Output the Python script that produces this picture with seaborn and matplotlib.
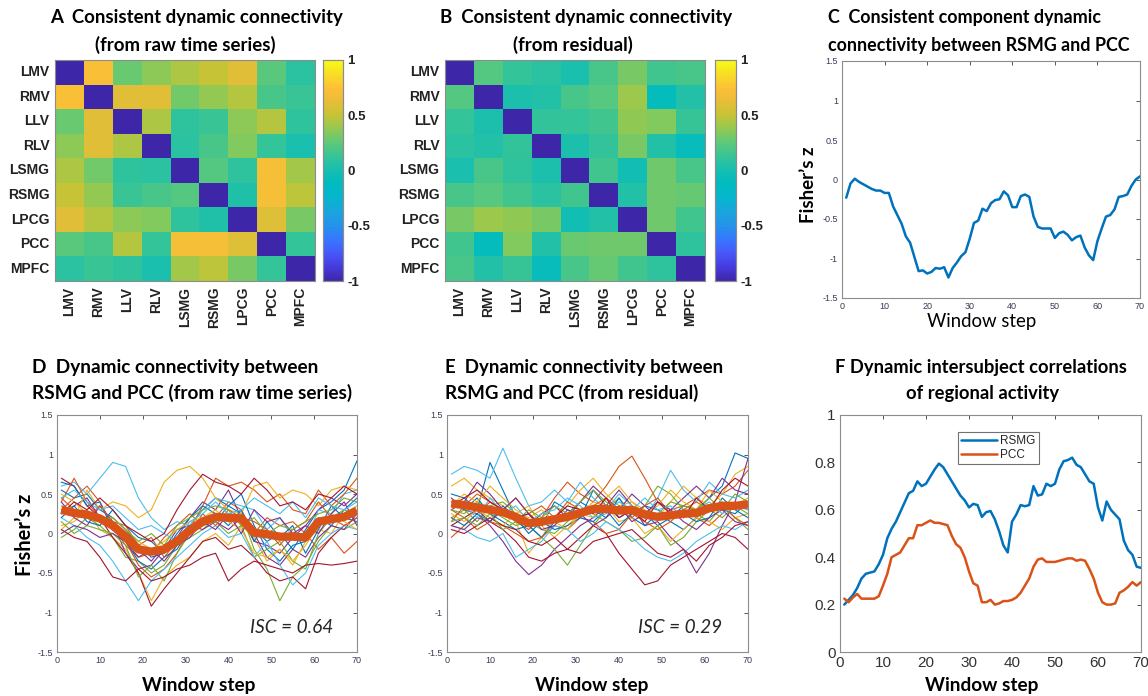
import numpy as np
import pandas as pd
import matplotlib
matplotlib.use("Agg")
import matplotlib.pyplot as plt
import seaborn as sns
from matplotlib.colors import LinearSegmentedColormap

# ---------------- DATA ----------------
regions = ["LMV", "RMV", "LLV", "RLV", "LSMG", "RSMG", "LPCG", "PCC", "MPFC"]

conn_raw = [
    [-1.00, 0.72, 0.28, 0.36, 0.44, 0.50, 0.60, 0.24, 0.08],
    [0.72, -1.00, 0.60, 0.60, 0.30, 0.38, 0.46, 0.18, 0.14],
    [0.28, 0.60, -1.00, 0.44, 0.10, 0.14, 0.36, 0.46, 0.10],
    [0.36, 0.60, 0.44, -1.00, 0.08, 0.18, 0.34, 0.12, 0.02],
    [0.44, 0.30, 0.10, 0.08, -1.00, 0.22, 0.10, 0.70, 0.42],
    [0.50, 0.38, 0.14, 0.18, 0.22, -1.00, 0.04, 0.70, 0.48],
    [0.60, 0.46, 0.36, 0.34, 0.10, 0.04, -1.00, 0.58, 0.32],
    [0.24, 0.18, 0.46, 0.12, 0.70, 0.70, 0.58, -1.00, 0.12],
    [0.08, 0.14, 0.10, 0.02, 0.42, 0.48, 0.32, 0.12, -1.00],
]

conn_resid = [
    [-1.00, 0.22, 0.12, 0.08, 0.02, 0.18, 0.32, 0.16, 0.18],
    [0.22, -1.00, 0.03, 0.05, 0.18, 0.23, 0.40, -0.10, 0.05],
    [0.12, 0.03, -1.00, 0.11, 0.12, 0.16, 0.37, 0.34, 0.13],
    [0.08, 0.05, 0.11, -1.00, 0.03, 0.11, 0.32, 0.05, -0.08],
    [0.02, 0.18, 0.10, 0.03, -1.00, 0.16, -0.02, 0.29, 0.18],
    [0.18, 0.23, 0.16, 0.08, 0.16, -1.00, 0.05, 0.29, 0.27],
    [0.32, 0.40, 0.37, 0.32, -0.02, 0.05, -1.00, 0.29, 0.16],
    [0.16, -0.10, 0.34, 0.05, 0.28, 0.29, 0.29, -1.00, 0.10],
    [0.18, 0.05, 0.13, -0.08, 0.18, 0.27, 0.16, 0.10, -1.00],
]

steps = list(range(1, 71))

consistent_z = [-0.23, -0.05, 0.01, -0.03, -0.06, -0.09, -0.12, -0.14, -0.14, -0.17,
                -0.17, -0.34, -0.45, -0.56, -0.72, -0.80, -0.98, -1.16, -1.15, -1.19,
                -1.17, -1.12, -1.13, -1.11, -1.24, -1.12, -1.05, -0.97, -0.92, -0.75,
                -0.55, -0.52, -0.37, -0.40, -0.30, -0.26, -0.25, -0.15, -0.20, -0.35,
                -0.35, -0.21, -0.19, -0.22, -0.47, -0.60, -0.62, -0.62, -0.62, -0.74,
                -0.68, -0.66, -0.70, -0.77, -0.73, -0.71, -0.86, -0.96, -1.02, -0.78,
                -0.62, -0.47, -0.45, -0.38, -0.22, -0.21, -0.19, -0.08, 0.00, 0.04]

isc_rsmg = [0.20, 0.22, 0.24, 0.27, 0.31, 0.33, 0.335, 0.34, 0.37, 0.41,
            0.48, 0.52, 0.55, 0.59, 0.63, 0.67, 0.68, 0.72, 0.70, 0.71,
            0.74, 0.77, 0.795, 0.78, 0.75, 0.72, 0.69, 0.66, 0.64, 0.61,
            0.625, 0.62, 0.57, 0.59, 0.595, 0.56, 0.51, 0.45, 0.42, 0.55,
            0.58, 0.62, 0.615, 0.62, 0.70, 0.66, 0.665, 0.71, 0.70, 0.71,
            0.77, 0.805, 0.81, 0.82, 0.79, 0.78, 0.75, 0.72, 0.71, 0.61,
            0.555, 0.635, 0.60, 0.58, 0.56, 0.47, 0.43, 0.41, 0.36, 0.355]

isc_pcc = [0.225, 0.21, 0.23, 0.245, 0.225, 0.225, 0.225, 0.225, 0.235, 0.28,
           0.33, 0.40, 0.41, 0.42, 0.45, 0.48, 0.48, 0.535, 0.535, 0.545,
           0.555, 0.545, 0.545, 0.54, 0.535, 0.49, 0.455, 0.44, 0.40, 0.34,
           0.29, 0.28, 0.21, 0.21, 0.22, 0.20, 0.205, 0.215, 0.215, 0.22,
           0.23, 0.25, 0.28, 0.31, 0.36, 0.39, 0.395, 0.38, 0.38, 0.38,
           0.385, 0.39, 0.395, 0.395, 0.385, 0.39, 0.385, 0.35, 0.31, 0.25,
           0.21, 0.20, 0.20, 0.205, 0.25, 0.26, 0.275, 0.295, 0.28, 0.295]

steps_subj = list(range(1, 71, 3))  # 24 sampled window steps

raw_mean = [0.30, 0.26, 0.24, 0.19, 0.10, -0.04, -0.20, -0.23, -0.20, -0.10, 0.04, 0.15,
            0.21, 0.20, 0.19, 0.01, -0.01, -0.04, -0.04, -0.05, 0.15, 0.18, 0.21, 0.29]

raw_subjects = [
    [0.55, 0.45, 0.50, 0.30, 0.20, 0.05, -0.15, -0.30, -0.25, -0.05, 0.10, 0.30, 0.45, 0.35, 0.25, 0.05, -0.10, 0.00, -0.20, 0.05, 0.30, 0.40, 0.55, 0.92],
    [0.30, 0.45, 0.60, 0.40, 0.10, -0.15, -0.30, -0.25, -0.05, 0.10, 0.25, 0.10, 0.20, 0.40, 0.30, 0.00, 0.20, 0.10, 0.15, 0.00, -0.20, -0.05, -0.25, -0.10],
    [0.10, 0.15, 0.30, 0.05, -0.05, -0.20, -0.50, -0.85, -0.55, -0.40, -0.30, -0.10, 0.00, -0.15, 0.10, -0.05, -0.35, -0.20, -0.40, -0.10, 0.05, 0.00, 0.25, 0.35],
    [0.25, 0.35, 0.45, 0.20, 0.05, -0.05, -0.20, -0.35, -0.15, -0.05, 0.20, 0.40, 0.30, 0.55, 0.20, -0.10, -0.15, -0.25, -0.05, 0.10, 0.30, 0.45, 0.35, 0.50],
    [-0.05, 0.05, 0.20, 0.10, -0.05, -0.30, -0.35, -0.50, -0.40, -0.15, -0.05, 0.05, 0.20, 0.15, 0.25, -0.20, -0.45, -0.85, -0.55, -0.40, -0.10, 0.10, 0.05, 0.15],
    [0.60, 0.65, 0.50, 0.70, 0.90, 0.85, 0.45, 0.20, 0.05, 0.15, 0.10, 0.30, 0.45, 0.40, 0.35, 0.30, 0.05, 0.20, -0.05, -0.10, 0.30, 0.25, 0.50, 0.55],
    [0.70, 0.60, 0.35, 0.20, -0.05, -0.25, -0.50, -0.92, -0.70, -0.50, -0.30, -0.10, -0.05, -0.20, -0.15, -0.30, -0.50, -0.60, -0.55, -0.70, -0.25, -0.05, 0.10, 0.20],
    [0.65, 0.60, 0.35, 0.40, 0.05, -0.10, -0.35, -0.45, -0.30, -0.20, 0.05, 0.20, 0.15, 0.35, 0.50, 0.10, -0.20, -0.35, -0.15, -0.10, 0.20, 0.10, 0.30, 0.45],
    [0.40, 0.70, 0.40, 0.20, 0.05, -0.10, -0.40, -0.55, -0.45, -0.25, 0.05, 0.35, 0.70, 0.60, 0.65, 0.55, 0.40, 0.50, 0.30, 0.25, 0.55, 0.35, 0.50, 0.70],
    [0.05, 0.20, 0.55, 0.30, 0.40, 0.35, 0.20, 0.30, 0.65, 0.80, 0.85, 0.70, 0.45, 0.30, 0.25, 0.60, 0.65, 0.45, 0.55, 0.50, 0.35, 0.55, 0.60, 0.55],
    [0.40, 0.20, 0.10, 0.35, 0.15, -0.25, -0.45, -0.40, -0.20, 0.05, 0.10, 0.05, 0.15, 0.05, 0.20, 0.00, -0.30, -0.40, -0.20, -0.30, -0.05, 0.10, 0.05, 0.25],
    [0.15, 0.00, 0.10, 0.05, 0.00, -0.15, -0.55, -0.40, -0.60, -0.25, 0.00, 0.10, 0.15, 0.00, 0.10, -0.30, -0.20, -0.10, -0.35, -0.45, 0.00, 0.20, 0.30, 0.25],
    [0.20, 0.10, -0.05, -0.15, -0.35, -0.60, -0.85, -0.60, -0.45, -0.30, -0.15, 0.00, 0.10, -0.05, 0.00, -0.30, -0.10, -0.40, -0.65, -0.50, -0.15, 0.00, 0.10, 0.05],
    [0.05, -0.05, -0.10, -0.30, -0.55, -0.60, -0.45, -0.60, -0.55, -0.45, -0.40, -0.30, -0.25, -0.60, -0.45, -0.35, -0.40, -0.45, -0.50, -0.40, -0.38, -0.40, -0.38, -0.35],
    [0.20, 0.35, 0.15, 0.10, 0.30, 0.10, -0.05, -0.10, -0.25, 0.00, 0.20, 0.35, 0.25, 0.10, 0.30, -0.10, 0.15, -0.05, 0.10, -0.25, 0.05, 0.35, 0.20, 0.15],
    [0.45, 0.30, 0.20, 0.35, 0.15, 0.10, -0.15, -0.05, -0.30, -0.10, 0.00, 0.25, 0.10, 0.30, 0.20, 0.15, 0.05, -0.15, 0.05, 0.15, 0.40, 0.20, 0.10, 0.20],
    [0.50, 0.40, 0.25, 0.15, 0.20, 0.05, -0.10, -0.20, -0.10, 0.05, 0.15, 0.20, 0.30, 0.15, 0.05, -0.25, -0.30, -0.20, -0.35, -0.15, 0.10, 0.25, 0.15, 0.05],
    [0.00, 0.10, 0.05, -0.05, 0.00, -0.10, -0.30, -0.20, -0.35, -0.15, -0.05, 0.15, 0.05, 0.25, 0.00, 0.30, 0.15, 0.20, 0.00, 0.10, 0.00, 0.25, 0.40, 0.10],
    [0.35, 0.30, 0.25, 0.15, 0.20, 0.05, -0.10, 0.00, -0.15, 0.10, 0.20, 0.30, 0.35, 0.30, 0.10, 0.20, 0.00, 0.10, 0.05, 0.15, 0.25, 0.30, 0.45, 0.40],
    [0.45, 0.55, 0.40, 0.30, 0.35, 0.20, 0.05, 0.10, 0.00, -0.10, 0.15, 0.25, 0.40, 0.25, 0.30, 0.45, 0.35, 0.25, 0.40, 0.20, 0.45, 0.35, 0.30, 0.40],
    [0.25, 0.40, 0.30, 0.45, 0.30, 0.10, 0.00, -0.10, 0.00, 0.30, 0.55, 0.75, 0.65, 0.60, 0.50, 0.70, 0.55, 0.35, 0.40, 0.30, 0.50, 0.45, 0.60, 0.50],
]

resid_mean = [0.38, 0.36, 0.33, 0.30, 0.27, 0.21, 0.13, 0.15, 0.18, 0.21, 0.26, 0.31,
              0.31, 0.29, 0.30, 0.24, 0.21, 0.23, 0.25, 0.26, 0.32, 0.35, 0.35, 0.37]

resid_subjects = [
    [0.50, 0.45, 0.30, 0.90, 0.55, 0.20, 0.25, 0.10, 0.40, 0.30, 0.20, 0.55, 0.35, 0.20, 0.30, 0.25, 0.10, 0.20, 0.35, 0.30, 0.45, 0.60, 1.02, 0.95],
    [-0.05, 0.10, 0.25, 0.40, 0.30, 0.15, 0.05, 0.20, 0.45, 0.65, 0.50, 0.40, 0.60, 0.85, 0.98, 0.70, 0.40, 0.30, 0.35, 0.45, 0.55, 0.50, 0.60, 0.80],
    [0.60, 0.70, 0.55, 0.45, 0.35, 0.15, -0.25, -0.05, 0.20, 0.35, 0.55, 0.70, 0.50, 0.35, 0.40, 0.30, 0.20, 0.40, 0.60, 0.45, 0.35, 0.50, 0.75, 0.85],
    [0.45, 0.30, 0.25, 0.10, -0.10, -0.35, -0.52, -0.40, -0.20, -0.05, 0.10, 0.20, 0.35, 0.55, 0.35, 0.10, 0.15, -0.05, -0.20, -0.50, -0.25, 0.10, 0.40, 0.95],
    [0.20, 0.30, 0.15, 0.35, 0.40, 0.25, 0.10, -0.05, -0.20, -0.40, -0.15, 0.10, 0.30, 0.45, 0.25, 0.35, 0.60, 0.50, 0.30, 0.25, 0.15, 0.35, 0.20, 0.05],
    [0.75, 0.85, 0.80, 0.70, 1.08, 0.70, 0.35, 0.40, 0.55, 0.40, 0.65, 0.45, 0.30, 0.50, 0.35, 0.20, 0.45, 0.80, 0.55, 0.40, 0.65, 0.50, 0.45, 0.55],
    [0.10, 0.20, 0.30, 0.15, 0.05, -0.10, -0.30, -0.35, -0.25, -0.20, -0.05, 0.10, 0.00, -0.25, -0.45, -0.65, -0.60, -0.40, -0.30, -0.20, -0.10, 0.00, -0.05, -0.20],
    [0.40, 0.30, 0.45, 0.25, 0.15, 0.05, 0.10, -0.05, 0.15, 0.25, 0.40, 0.30, 0.20, 0.45, 0.20, 0.10, 0.25, 0.15, 0.05, 0.20, 0.35, 0.30, 0.25, 0.40],
    [0.30, 0.20, 0.05, 0.15, 0.10, 0.00, -0.10, -0.05, 0.10, 0.05, 0.20, 0.15, 0.00, 0.05, 0.25, 0.15, 0.05, 0.15, 0.30, 0.20, 0.10, 0.25, 0.40, 0.30],
    [0.25, 0.15, 0.30, 0.20, 0.10, 0.25, 0.35, 0.10, -0.05, 0.10, 0.25, 0.40, 0.35, 0.15, 0.20, 0.00, 0.10, -0.10, 0.05, 0.20, 0.15, 0.05, 0.20, 0.25],
    [0.30, 0.40, 0.65, 0.50, 0.30, 0.15, 0.10, 0.25, 0.35, 0.20, 0.40, 0.60, 0.45, 0.30, 0.50, 0.35, 0.20, 0.30, 0.45, 0.60, 0.45, 0.70, 0.55, 0.50],
    [0.30, 0.25, 0.40, 0.30, 0.20, 0.10, 0.15, 0.05, 0.00, 0.15, 0.30, 0.25, 0.15, 0.05, -0.10, -0.05, 0.10, -0.15, -0.05, 0.15, 0.30, 0.20, 0.35, 0.25],
    [0.10, 0.05, -0.05, -0.10, 0.00, -0.30, -0.20, -0.10, 0.10, 0.05, -0.10, 0.00, 0.15, 0.05, -0.05, -0.20, -0.30, -0.35, -0.25, -0.10, 0.00, 0.10, 0.05, 0.15],
    [0.05, 0.00, 0.10, 0.20, 0.10, 0.05, -0.10, -0.15, -0.05, -0.20, -0.25, -0.10, -0.05, 0.00, 0.05, -0.10, -0.25, -0.30, -0.20, -0.35, -0.15, -0.05, 0.10, 0.15],
    [0.20, 0.10, 0.25, 0.15, 0.35, 0.20, 0.00, 0.15, 0.05, 0.10, 0.20, 0.15, 0.30, 0.10, 0.25, 0.35, 0.30, 0.20, 0.25, 0.15, 0.20, 0.45, 0.30, 0.20],
    [0.15, 0.35, 0.50, 0.40, 0.30, 0.45, 0.25, 0.35, 0.20, 0.40, 0.30, 0.35, 0.45, 0.30, 0.20, 0.35, 0.45, 0.25, 0.30, 0.40, 0.30, 0.35, 0.20, 0.10],
    [0.35, 0.50, 0.40, 0.60, 0.45, 0.30, 0.20, 0.30, 0.15, 0.05, 0.25, 0.20, 0.45, 0.60, 0.40, 0.25, 0.35, 0.55, 0.40, 0.30, 0.55, 0.40, 0.35, 0.45],
    [0.10, 0.05, 0.20, 0.15, 0.30, 0.45, 0.25, 0.05, 0.10, 0.30, 0.25, 0.10, 0.20, 0.35, 0.15, 0.25, 0.40, 0.30, 0.15, 0.05, 0.20, 0.30, 0.15, 0.10],
    [0.15, 0.20, 0.10, 0.25, 0.05, 0.15, 0.30, 0.20, 0.35, 0.25, 0.40, 0.55, 0.40, 0.30, 0.35, 0.20, 0.25, 0.40, 0.35, 0.30, 0.45, 0.30, 0.50, 0.40],
    [0.40, 0.35, 0.20, 0.45, 0.25, 0.35, 0.15, 0.25, 0.30, 0.45, 0.35, 0.20, 0.25, 0.40, 0.30, 0.45, 0.30, 0.35, 0.20, 0.30, 0.40, 0.25, 0.35, 0.30],
    [0.35, 0.45, 0.55, 0.40, 0.30, 0.20, 0.25, 0.10, 0.20, 0.35, 0.30, 0.25, 0.45, 0.20, 0.30, 0.15, 0.40, 0.25, 0.20, 0.45, 0.30, 0.55, 0.70, 0.60],
]

# ---------------- STYLE ----------------
sns.set_theme(style="white")
plt.rcParams["font.family"] = ["Liberation Sans", "DejaVu Sans"]

parula = LinearSegmentedColormap.from_list("parula_like", [
    (0.000, (0.2422, 0.1504, 0.6603)),
    (0.0625, (0.2744, 0.2305, 0.8648)),
    (0.125, (0.2803, 0.3446, 0.9786)),
    (0.1875, (0.2168, 0.4647, 0.9964)),
    (0.250, (0.1408, 0.5765, 0.9173)),
    (0.3125, (0.1036, 0.6468, 0.8658)),
    (0.375, (0.0222, 0.7087, 0.8072)),
    (0.4375, (0.0000, 0.7330, 0.7537)),
    (0.500, (0.0846, 0.7452, 0.6931)),
    (0.5625, (0.2077, 0.7678, 0.5959)),
    (0.625, (0.3616, 0.7877, 0.4794)),
    (0.6875, (0.5660, 0.7901, 0.3259)),
    (0.750, (0.7720, 0.7676, 0.2127)),
    (0.8125, (0.9122, 0.7383, 0.2235)),
    (0.875, (0.9926, 0.7526, 0.2101)),
    (0.9375, (0.9679, 0.8697, 0.1462)),
    (1.000, (0.9769, 0.9839, 0.0805)),
])

matlab = ["#0072BD", "#D95319", "#EDB120", "#7E2F8E", "#77AC30", "#4DBEEE", "#A2142F"]
mean_color = "#D95319"
edge_gray = "0.55"
tick_col = "#3a3a55"
title_font = ["Lato", "DejaVu Sans"]

W, H = 1148, 696
fig = plt.figure(figsize=(W / 100, H / 100), dpi=100)


def box(x0, y0, x1, y1):
    return [x0 / W, 1 - y1 / H, (x1 - x0) / W, (y1 - y0) / H]


def ftext(x, y, s, size, ha="center", weight="bold", **kw):
    fig.text(x / W, 1 - y / H, s, ha=ha, va="center", family=title_font,
             fontweight=weight, fontsize=size, color="black", **kw)


def draw_heatmap(mat, hbox, cbox):
    ax = fig.add_axes(box(*hbox))
    cax = fig.add_axes(box(*cbox))
    df = pd.DataFrame(mat, index=regions, columns=regions)
    sns.heatmap(df, ax=ax, cbar_ax=cax, cmap=parula, vmin=-1, vmax=1,
                xticklabels=regions, yticklabels=regions)
    ax.tick_params(axis="both", direction="in", length=3, width=0.7, color="0.3",
                   top=True, right=True, bottom=True, left=True,
                   labelsize=10, pad=4)
    ax.set_xticklabels(regions, rotation=90, fontweight="bold", color="#222222")
    ax.set_yticklabels(regions, rotation=0, fontweight="bold", color="#222222")
    for s in ax.spines.values():
        s.set_visible(True)
        s.set_color(edge_gray)
        s.set_linewidth(0.8)
    cax.set_yticks([-1, -0.5, 0, 0.5, 1])
    cax.set_yticklabels(["-1", "-0.5", "0", "0.5", "1"], fontweight="bold", color="#222222")
    cax.tick_params(direction="in", length=3, width=0.7, color="0.3", labelsize=9.5, pad=3)
    cax.yaxis.set_ticks_position("both")
    for s in cax.spines.values():
        s.set_visible(True)
        s.set_color(edge_gray)
        s.set_linewidth(0.8)
    return ax


def style_z_axes(ax):
    ax.set_xlim(0, 70)
    ax.set_ylim(-1.5, 1.5)
    ax.set_xticks(range(0, 71, 10))
    ax.set_yticks([-1.5, -1, -0.5, 0, 0.5, 1, 1.5])
    ax.set_yticklabels(["-1.5", "-1", "-0.5", "0", "0.5", "1", "1.5"])
    ax.tick_params(direction="in", length=3, width=0.6, top=True, right=True,
                   labelsize=6.5, colors=tick_col, pad=3)
    for s in ax.spines.values():
        s.set_visible(True)
        s.set_color(edge_gray)
        s.set_linewidth(0.8)
    ax.set_xlabel("")
    ax.set_ylabel("")


# ----- A and B heatmaps -----
draw_heatmap(conn_raw, (55, 60, 315, 281), (323, 60, 343, 281))
draw_heatmap(conn_resid, (445, 60, 705, 281), (715, 60, 736, 281))

ftext(197, 18, "A  Consistent dynamic connectivity", 13.4)
ftext(185, 45, "(from raw time series)", 13.4)
ftext(586, 18, "B  Consistent dynamic connectivity", 13.4)
ftext(573, 45, "(from residual)", 13.4)
ftext(828, 18, "C  Consistent component dynamic", 12.9, ha="left")
ftext(828, 45, "connectivity between RSMG and PCC", 12.9, ha="left")

# ----- C -----
axC = fig.add_axes(box(842, 61, 1140, 298))
sns.lineplot(x=steps, y=consistent_z, ax=axC, color="#0072BD", linewidth=1.8)
style_z_axes(axC)
ftext(808, 185, "Fisher\u2019s z", 13.5, rotation=90)
ftext(982, 321, "Window step", 13.4, weight="normal")


# ----- D and E -----
def draw_subjects(ax, subjects, mean_vals):
    rows = []
    for i, vals in enumerate(subjects):
        for s, v in zip(steps_subj, vals):
            rows.append({"step": s, "z": v, "subj": f"s{i}"})
    df = pd.DataFrame(rows)
    pal = {f"s{i}": matlab[i % 7] for i in range(len(subjects))}
    sns.lineplot(data=df, x="step", y="z", hue="subj", palette=pal, ax=ax,
                 linewidth=0.8, legend=False, estimator=None)
    sns.lineplot(x=steps_subj, y=mean_vals, ax=ax, color=mean_color, linewidth=6,
                 solid_capstyle="butt")
    style_z_axes(ax)


axD = fig.add_axes(box(57, 415, 357, 652))
draw_subjects(axD, raw_subjects, raw_mean)
axD.text(0.645, 0.105, "ISC = 0.64", transform=axD.transAxes, fontsize=13.7,
         fontstyle="italic", family=title_font, va="center", ha="left")
axE = fig.add_axes(box(447, 415, 748, 652))
draw_subjects(axE, resid_subjects, resid_mean)
axE.text(0.635, 0.105, "ISC = 0.29", transform=axE.transAxes, fontsize=13.7,
         fontstyle="italic", family=title_font, va="center", ha="left")

ftext(32, 368, "D  Dynamic connectivity between", 13.7, ha="left")
ftext(32, 393, "RSMG and PCC (from raw time series)", 13.7, ha="left")
ftext(445, 368, "E  Dynamic connectivity between", 13.4, ha="left")
ftext(445, 393, "RSMG and PCC (from residual)", 13.4, ha="left")
ftext(981, 368, "F Dynamic intersubject correlations", 13.2)
ftext(983, 393, "of regional activity", 13.2)

ftext(25, 535, "Fisher\u2019s z", 14.5, rotation=90)
for xc in (199, 592, 982):
    ftext(xc, 685, "Window step", 13.7)

# ----- F -----
axF = fig.add_axes(box(840, 415, 1141, 652))
sns.lineplot(x=steps, y=isc_rsmg, ax=axF, color="#0072BD", linewidth=1.8, label="RSMG")
sns.lineplot(x=steps, y=isc_pcc, ax=axF, color="#D95319", linewidth=1.8, label="PCC")
axF.set_xlim(0, 70)
axF.set_ylim(0, 1)
axF.set_xticks(range(0, 71, 10))
axF.set_yticks([0, 0.2, 0.4, 0.6, 0.8, 1])
axF.set_yticklabels(["0", "0.2", "0.4", "0.6", "0.8", "1"])
axF.tick_params(direction="in", length=3, width=0.6, top=True, right=True,
                labelsize=11, colors="#333333", pad=3)
for s in axF.spines.values():
    s.set_visible(True)
    s.set_color(edge_gray)
    s.set_linewidth(0.8)
axF.set_xlabel("")
axF.set_ylabel("")
leg = axF.legend(loc="upper center", bbox_to_anchor=(0.527, 0.955), fontsize=8.5,
                 frameon=True, fancybox=False, handlelength=3.0, borderpad=0.3,
                 labelspacing=0.15, handletextpad=0.3)
leg.get_frame().set_edgecolor("0.3")
leg.get_frame().set_linewidth(0.8)

fig.savefig("out.png", dpi=100)
